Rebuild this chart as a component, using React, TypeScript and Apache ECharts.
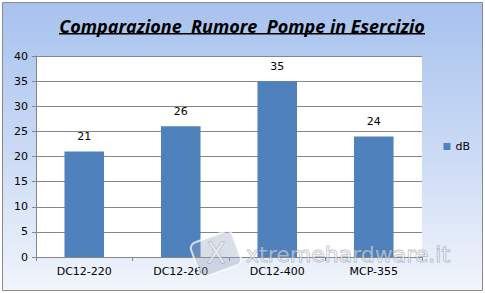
import React, { useEffect, useRef } from "react";
import * as echarts from "echarts";

const categories = ["DC12-220", "DC12-260", "DC12-400", "MCP-355"];
const noiseDb = [21, 26, 35, 24];
const seriesName = "dB";
const chartTitle = "Comparazione  Rumore  Pompe in Esercizio";
const watermark = "xtremehardware.it";

export default function App() {
  const ref = useRef<HTMLDivElement>(null);

  useEffect(() => {
    if (!ref.current) return;
    const chart = echarts.init(ref.current, undefined, { renderer: "svg" });
    const font = "Tahoma, 'DejaVu Sans', sans-serif";
    chart.setOption({
      animation: false,
      backgroundColor: "#ffffff",
      graphic: [
        {
          type: "rect",
          z: -10,
          silent: true,
          shape: { x: 2.5, y: 2.5, width: 480, height: 288 },
          style: {
            fill: new echarts.graphic.LinearGradient(0, 0, 0, 1, [
              { offset: 0, color: "#a7c2ee" },
              { offset: 0.55, color: "#cddcf5" },
              { offset: 1, color: "#f1f5fc" },
            ]),
            stroke: "#8a8a8a",
            lineWidth: 1,
          },
        },
        {
          type: "text",
          x: 242,
          y: 26,
          style: {
            text: chartTitle,
            align: "center",
            verticalAlign: "middle",
            fontFamily: "Open Sans, sans-serif",
            fontWeight: "bold",
            fontStyle: "italic",
            fontSize: 18,
            fill: "#000000",
          },
        },
        {
          type: "rect",
          silent: true,
          z: 100,
          shape: { x: 59, y: 33, width: 366, height: 1.5 },
          style: { fill: "#000000" },
        },
        // watermark logo
        {
          type: "rect",
          silent: true,
          z: 200,
          shape: { x: 194, y: 236, width: 44, height: 36, r: 6 },
          rotation: 0.35,
          originX: 216,
          originY: 254,
          style: { fill: "rgba(150,160,185,0.35)", stroke: "rgba(255,255,255,0.7)", lineWidth: 2 },
        },
        {
          type: "text",
          silent: true,
          z: 201,
          x: 216,
          y: 253,
          style: {
            text: "X",
            align: "center",
            verticalAlign: "middle",
            fontFamily: "DejaVu Sans, sans-serif",
            fontSize: 28,
            lineHeight: 20,
            fill: "rgba(255,255,255,0.55)",
            stroke: "rgba(120,130,150,0.5)",
            lineWidth: 1,
          },
        },
        {
          type: "text",
          silent: true,
          z: 201,
          x: 246,
          y: 254,
          style: {
            text: watermark,
            verticalAlign: "middle",
            fontFamily: "DejaVu Sans, sans-serif",
            fontSize: 22,
            lineHeight: 14,
            fill: "rgba(255,255,255,0.45)",
            stroke: "rgba(110,120,140,0.55)",
            lineWidth: 1,
          },
        },
      ],
      legend: {
        orient: "vertical",
        right: 10,
        top: "middle",
        itemWidth: 7,
        itemHeight: 7,
        icon: "rect",
        textStyle: { fontFamily: font, fontSize: 11, color: "#000" },
        data: [seriesName],
      },
      grid: {
        left: 36,
        right: 63,
        top: 56,
        bottom: 36,
        show: true,
        backgroundColor: "#ffffff",
        borderWidth: 0,
      },
      xAxis: {
        type: "category",
        data: categories,
        axisLine: { lineStyle: { color: "#868686" } },
        axisTick: { show: true, alignWithLabel: false, length: 4, lineStyle: { color: "#868686" } },
        axisLabel: { fontFamily: font, fontSize: 11, color: "#000", margin: 9 },
      },
      yAxis: {
        type: "value",
        min: 0,
        max: 40,
        interval: 5,
        axisLine: { show: true, lineStyle: { color: "#868686" } },
        axisTick: { show: true, length: 4, lineStyle: { color: "#868686" } },
        axisLabel: { fontFamily: font, fontSize: 11, color: "#000", margin: 8 },
        splitLine: { lineStyle: { color: "#868686" } },
      },
      series: [
        {
          name: seriesName,
          type: "bar",
          data: noiseDb,
          barWidth: "41%",
          itemStyle: { color: "#4f81bd" },
          label: {
            show: true,
            position: "top",
            distance: 9,
            fontFamily: font,
            fontSize: 11,
            color: "#000",
          },
        },
      ],
    });
    return () => chart.dispose();
  }, []);

  return (
    <div
      ref={ref}
      style={{ width: 485, height: 293, position: "absolute", left: 0, top: 0 }}
    />
  );
}
